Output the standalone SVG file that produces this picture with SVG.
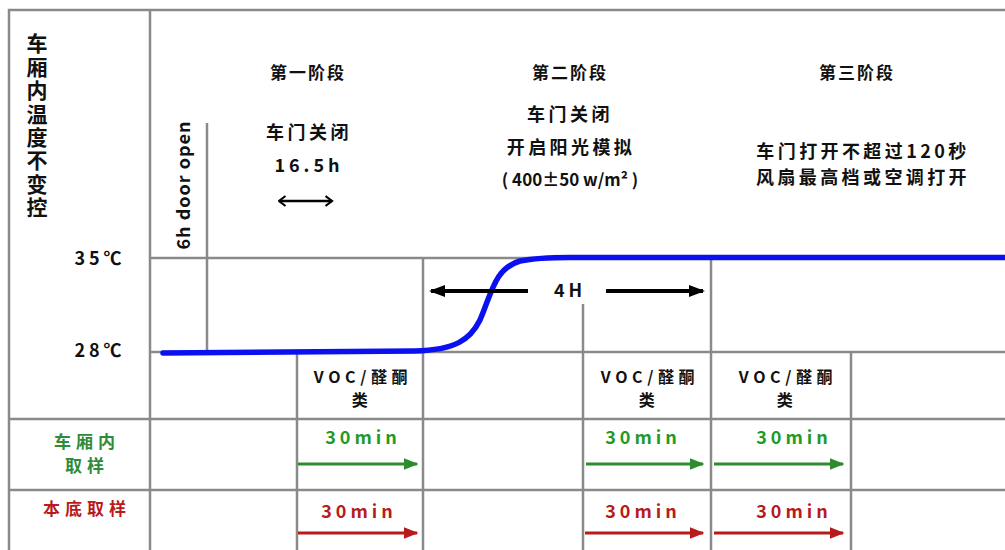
<svg xmlns="http://www.w3.org/2000/svg" width="1005" height="550" viewBox="0 0 1005 550">
<style>
.g{stroke:#8a8a8a;stroke-width:2.5;fill:none}
.t{font-family:"Noto Sans CJK SC","Noto Sans",sans-serif;font-weight:bold;fill:#111;text-anchor:middle}
.s18{font-size:18px}
.s17{font-size:17px}
.s16{font-size:16px}
.grn{fill:#1f9a26}
.grl{fill:#2e8b3a}
.red{fill:#b81b1b}
</style>
<defs>
<marker id="ag" markerWidth="5" markerHeight="4" refX="4.5" refY="2" orient="auto" markerUnits="strokeWidth"><path d="M0,0 L5,2 L0,4z" fill="#2e8b2e"/></marker>
<marker id="ar" markerWidth="5" markerHeight="4" refX="4.5" refY="2" orient="auto" markerUnits="strokeWidth"><path d="M0,0 L5,2 L0,4z" fill="#b81b1b"/></marker>
<marker id="ak" markerWidth="4" markerHeight="3" refX="3.5" refY="1.5" orient="auto" markerUnits="strokeWidth"><path d="M0,0 L4,1.5 L0,3z" fill="#000"/></marker>
<marker id="ak2" markerWidth="9" markerHeight="12" refX="7.5" refY="6" orient="auto-start-reverse" markerUnits="userSpaceOnUse"><path d="M1,1 L7.5,6 L1,11" fill="none" stroke="#000" stroke-width="2.2"/></marker>
</defs>
<rect width="1005" height="550" fill="#fff"/>
<g id="grid">
<path class="g" d="M9,550 V10 H1005"/>
<path class="g" d="M150,10 V550"/>
<path class="g" d="M150,258 H1005"/>
<path class="g" d="M150,352 H1005"/>
<path class="g" d="M9,419 H1005"/>
<path class="g" d="M9,490 H1005"/>
<path class="g" d="M207,123 V352"/>
<path class="g" d="M423,258 V550"/>
<path class="g" d="M297,352 V550"/>
<path class="g" d="M583,304 V550"/>
<path class="g" d="M711,258 V550"/>
<path class="g" d="M851,352 V550"/>
</g>
<g id="curve">
<path d="M163,353 L415,351 C455,350 470,340 480,320 C492,292 495,268 520,261 C535,258 550,257.5 570,257.5 L1005,257.5" fill="none" stroke="#0a10f0" stroke-width="5.5" stroke-linecap="round"/>
</g>
<g id="ylabels">
<text class="t" font-size="21" writing-mode="tb" letter-spacing="2.4" x="37" y="33" style="text-anchor:start">车厢内温度不变控</text>
<text class="t s18" x="100" y="265" letter-spacing="4">35℃</text>
<text class="t s18" x="100" y="357" letter-spacing="4">28℃</text>
<text class="t s18" transform="translate(190,185) rotate(-90)" x="0" y="0" letter-spacing="1">6h door open</text>
</g>
<g id="stage1">
<text class="t s17" x="308" y="79" letter-spacing="2">第一阶段</text>
<text class="t s18" x="309" y="139" letter-spacing="3.5">车门关闭</text>
<text class="t s18" x="309" y="172" letter-spacing="4">16.5h</text>
<path d="M279,201 H332" stroke="#000" stroke-width="2.5" marker-start="url(#ak2)" marker-end="url(#ak2)"/>
</g>
<g id="stage2">
<text class="t s17" x="570" y="79" letter-spacing="2">第二阶段</text>
<text class="t s18" x="570" y="121" letter-spacing="3.5">车门关闭</text>
<text class="t s18" x="571" y="154" letter-spacing="3.4">开启阳光模拟</text>
<text class="t s17" x="570" y="186">( 400±50 w/m² )</text>
</g>
<g id="stage3">
<text class="t s17" x="857" y="79" letter-spacing="2">第三阶段</text>
<text class="t s18" x="863" y="158" letter-spacing="3.4">车门打开不超过120秒</text>
<text class="t s18" x="863" y="184" letter-spacing="3.4">风扇最高档或空调打开</text>
</g>
<g id="span4h">
<path d="M528,291 H431" stroke="#000" stroke-width="4" marker-end="url(#ak)"/>
<path d="M606,291 H703" stroke="#000" stroke-width="4" marker-end="url(#ak)"/>
<text class="t s18" x="570" y="297" letter-spacing="4">4H</text>
</g>
<g id="voc">
<text class="t s16" letter-spacing="4.6"><tspan x="363" y="383">VOC/醛酮</tspan><tspan x="362" y="406">类</tspan></text>
<text class="t s16" letter-spacing="4.6"><tspan x="650" y="383">VOC/醛酮</tspan><tspan x="649" y="406">类</tspan></text>
<text class="t s16" letter-spacing="4.6"><tspan x="788" y="383">VOC/醛酮</tspan><tspan x="787" y="406">类</tspan></text>
</g>
<g id="rowlabels">
<text class="t s17 grl" letter-spacing="5"><tspan x="87" y="448">车厢内</tspan><tspan x="87" y="472">取样</tspan></text>
<text class="t s17 red" x="87" y="515" letter-spacing="5">本底取样</text>
</g>
<g id="samples">
<text class="t s18 grn" x="363" y="444" letter-spacing="4">30min</text>
<text class="t s18 grn" x="643" y="444" letter-spacing="4">30min</text>
<text class="t s18 grn" x="794" y="444" letter-spacing="4">30min</text>
<text class="t s18 red" x="359" y="518" letter-spacing="4">30min</text>
<text class="t s18 red" x="643" y="518" letter-spacing="4">30min</text>
<text class="t s18 red" x="794" y="518" letter-spacing="4">30min</text>
</g>
<g id="connectors">
<path d="M298,464 H417" stroke="#2e8b2e" stroke-width="3" marker-end="url(#ag)"/>
<path d="M586,464 H703" stroke="#2e8b2e" stroke-width="3" marker-end="url(#ag)"/>
<path d="M714,464 H843" stroke="#2e8b2e" stroke-width="3" marker-end="url(#ag)"/>
<path d="M298,533 H417" stroke="#b81b1b" stroke-width="3" marker-end="url(#ar)"/>
<path d="M585,533 H703" stroke="#b81b1b" stroke-width="3" marker-end="url(#ar)"/>
<path d="M714,533 H843" stroke="#b81b1b" stroke-width="3" marker-end="url(#ar)"/>
</g>
</svg>
